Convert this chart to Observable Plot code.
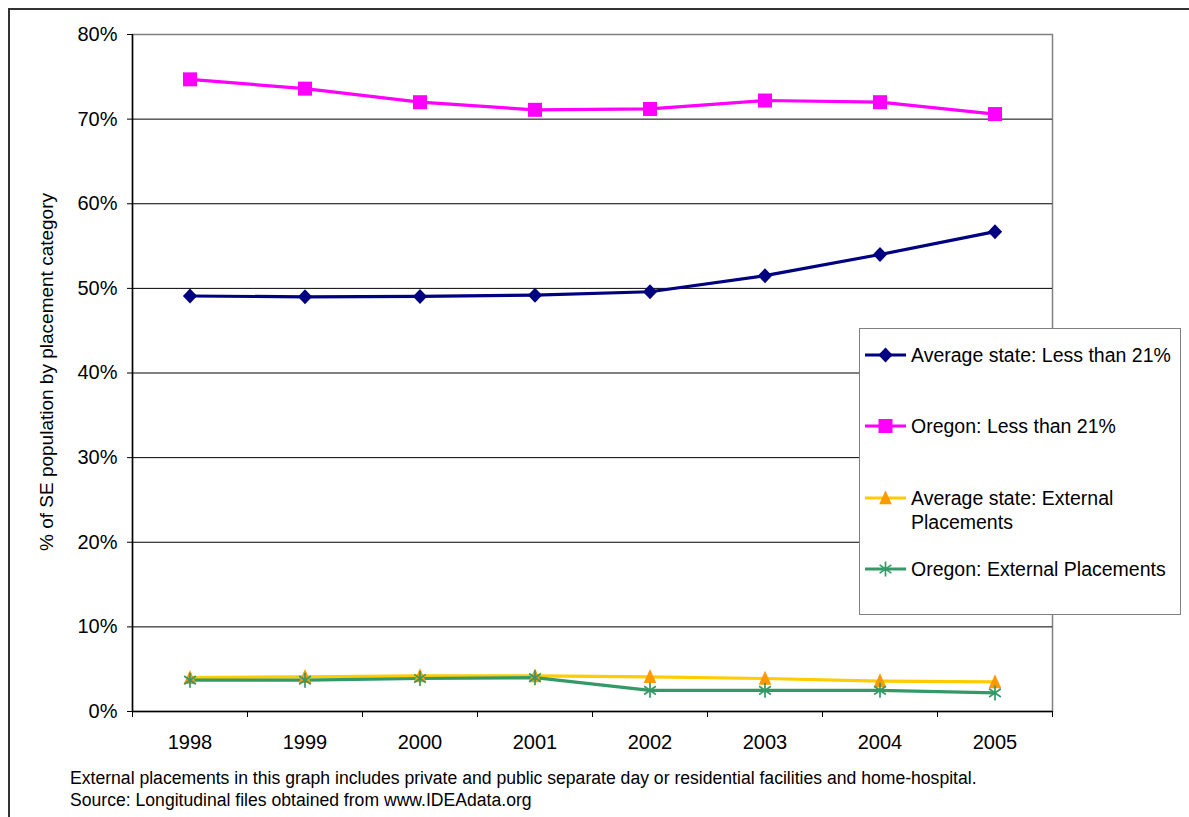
<!DOCTYPE html>
<html><head><meta charset="utf-8">
<script src="https://cdn.jsdelivr.net/npm/d3@7"></script>
<script src="https://cdn.jsdelivr.net/npm/@observablehq/plot@0.6"></script>
<style>
html,body{margin:0;padding:0;background:#fff;overflow:hidden;}
#wrap{position:relative;width:1189px;height:817px;overflow:hidden;font-family:"Liberation Sans",Arial,sans-serif;color:#000;}
#border{position:absolute;left:8px;top:8px;width:1300px;height:1000px;border-left:2px solid #333;border-top:2px solid #333;}
#chart{position:absolute;left:0;top:0;}
#ytitle{position:absolute;left:47px;top:372px;transform:translate(-50%,-50%) rotate(-90deg);white-space:nowrap;font-size:19px;}
#legend{position:absolute;left:859px;top:328px;width:320px;height:285px;border:1.5px solid #808080;background:#fff;}
.item{position:absolute;left:5px;font-size:19.5px;line-height:24px;}
.item svg{position:absolute;left:0;top:4px;}
.item span{position:absolute;left:46px;top:0;white-space:nowrap;}
#caption{position:absolute;left:70px;top:767px;font-size:17.6px;line-height:22px;white-space:nowrap;}
</style></head>
<body>
<div id="wrap">
  <div id="border"></div>
  <div id="chart"></div>
  <div id="ytitle"></div>
  <div id="legend"></div>
  <div id="caption"></div>
</div>
<script>
// ---- Data ----
const years = [1998, 1999, 2000, 2001, 2002, 2003, 2004, 2005];
const avgLess = [49.1, 49.0, 49.05, 49.2, 49.6, 51.5, 54.0, 56.7];
const oregonLess = [74.7, 73.6, 72.0, 71.1, 71.2, 72.2, 72.0, 70.6];
const avgExt = [4.0, 4.1, 4.2, 4.2, 4.1, 3.9, 3.6, 3.5];
const oregonExt = [3.7, 3.7, 3.9, 4.0, 2.5, 2.5, 2.5, 2.2];
const seriesNames = ["Average state: Less than 21%", "Oregon: Less than 21%", "Average state: External Placements", "Oregon: External Placements"];
const seriesLegendLines = [["Average state: Less than 21%"], ["Oregon: Less than 21%"], ["Average state: External", "Placements"], ["Oregon: External Placements"]];
const yTicks = [0, 10, 20, 30, 40, 50, 60, 70, 80];
const yTitle = "% of SE population by placement category";
const captionLines = [
  "External placements in this graph includes private and public separate day or residential facilities and home-hospital.",
  "Source: Longitudinal files obtained from www.IDEAdata.org"
];

// ---- Styles ----
const lineColors = ["#000080", "#FF00FF", "#FFCC00", "#339966"];
const markFill = ["#000080", "#FF00FF", "#FF9900", "none"];
const markStroke = ["none", "none", "none", "#339966"];

const diamond = {draw(ctx, size) { const r = Math.sqrt(size / Math.PI); const w = r * 0.95; ctx.moveTo(0, -r); ctx.lineTo(w, 0); ctx.lineTo(0, r); ctx.lineTo(-w, 0); ctx.closePath(); }};
const square = {draw(ctx, size) { const r = Math.sqrt(size / Math.PI); ctx.rect(-r, -r, 2 * r, 2 * r); }};
const triangle = {draw(ctx, size) { const r = Math.sqrt(size / Math.PI); const w = r * 0.9; ctx.moveTo(0, -r * 1.1); ctx.lineTo(w, r * 0.9); ctx.lineTo(-w, r * 0.9); ctx.closePath(); }};
const asterisk = {draw(ctx, size) { const r = Math.sqrt(size / Math.PI); const a = r * Math.sin(Math.PI / 3) * 0.9, b = r * 0.55;
  ctx.moveTo(0, -r); ctx.lineTo(0, r); ctx.moveTo(-a, -b); ctx.lineTo(a, b); ctx.moveTo(-a, b); ctx.lineTo(a, -b); }};
const symbols = [diamond, square, triangle, asterisk];
const radii = [7.5, 7, 7, 7.5];

const seriesValues = [avgLess, oregonLess, avgExt, oregonExt];
const tables = seriesValues.map((vals, i) => years.map((y, j) => ({year: y, value: vals[j], series: seriesNames[i]})));
const boundaries = years.concat([years[years.length - 1] + 1]).map(y => y - 0.5);

const marks = [
  Plot.frame({stroke: "#808080", strokeWidth: 1.5}),
  Plot.gridY(yTicks.filter(d => d > 0 && d < 80), {stroke: "#000", strokeOpacity: 1, strokeWidth: 1}),
  Plot.ruleX([boundaries[0]], {stroke: "#000", strokeWidth: 1.5}),
  Plot.ruleY([0], {stroke: "#000", strokeWidth: 1.5}),
  Plot.axisY({ticks: yTicks, tickFormat: d => d + "%", tickSize: 5, tickPadding: 10, fontSize: 20, label: null, stroke: "#000"}),
  Plot.axisX({ticks: years, tickFormat: d => String(d), tickSize: 0, tickPadding: 23, fontSize: 20, label: null}),
  Plot.axisX({ticks: boundaries, tickFormat: () => "", tickSize: 6, label: null, stroke: "#000"})
];
[2, 3, 0, 1].forEach(i => {
  marks.push(Plot.line(tables[i], {x: "year", y: "value", stroke: lineColors[i], strokeWidth: 3.2}));
});
[2, 3, 0, 1].forEach(i => {
  marks.push(Plot.dot(tables[i], {x: "year", y: "value", symbol: () => symbols[i], r: radii[i], fill: markFill[i], stroke: markStroke[i], strokeWidth: markStroke[i] === "none" ? 0 : 1.7}));
});

const chart = Plot.plot({
  width: 1189,
  height: 817,
  marginLeft: 132,
  marginRight: 137,
  marginTop: 34,
  marginBottom: 106,
  style: {fontFamily: "'Liberation Sans', Arial, sans-serif", color: "#000", background: "transparent"},
  x: {type: "linear", domain: [boundaries[0], boundaries[boundaries.length - 1]], axis: null},
  y: {type: "linear", domain: [0, 80], axis: null},
  symbol: {type: "identity"},
  marks
});
document.getElementById("chart").appendChild(chart);

document.getElementById("ytitle").textContent = yTitle;

// Legend
const legend = document.getElementById("legend");
const itemTops = [14, 85, 157, 228];
seriesLegendLines.forEach((lines, i) => {
  const div = document.createElement("div");
  div.className = "item";
  div.style.top = itemTops[i] + "px";
  const svg = d3.create("svg").attr("width", 42).attr("height", 16);
  svg.append("line").attr("x1", 0).attr("x2", 41).attr("y1", 8).attr("y2", 8).attr("stroke", lineColors[i]).attr("stroke-width", 3.2);
  const r = radii[i];
  svg.append("path").attr("transform", "translate(20.5,8)")
    .attr("d", d3.symbol(symbols[i], Math.PI * r * r)())
    .attr("fill", markFill[i]).attr("stroke", markStroke[i]).attr("stroke-width", markStroke[i] === "none" ? 0 : 1.7);
  div.appendChild(svg.node());
  const span = document.createElement("span");
  lines.forEach((t, k) => { if (k) span.appendChild(document.createElement("br")); span.appendChild(document.createTextNode(t)); });
  div.appendChild(span);
  legend.appendChild(div);
});

const cap = document.getElementById("caption");
captionLines.forEach((t, k) => { const d = document.createElement("div"); d.textContent = t; cap.appendChild(d); });
</script>
</body></html>
